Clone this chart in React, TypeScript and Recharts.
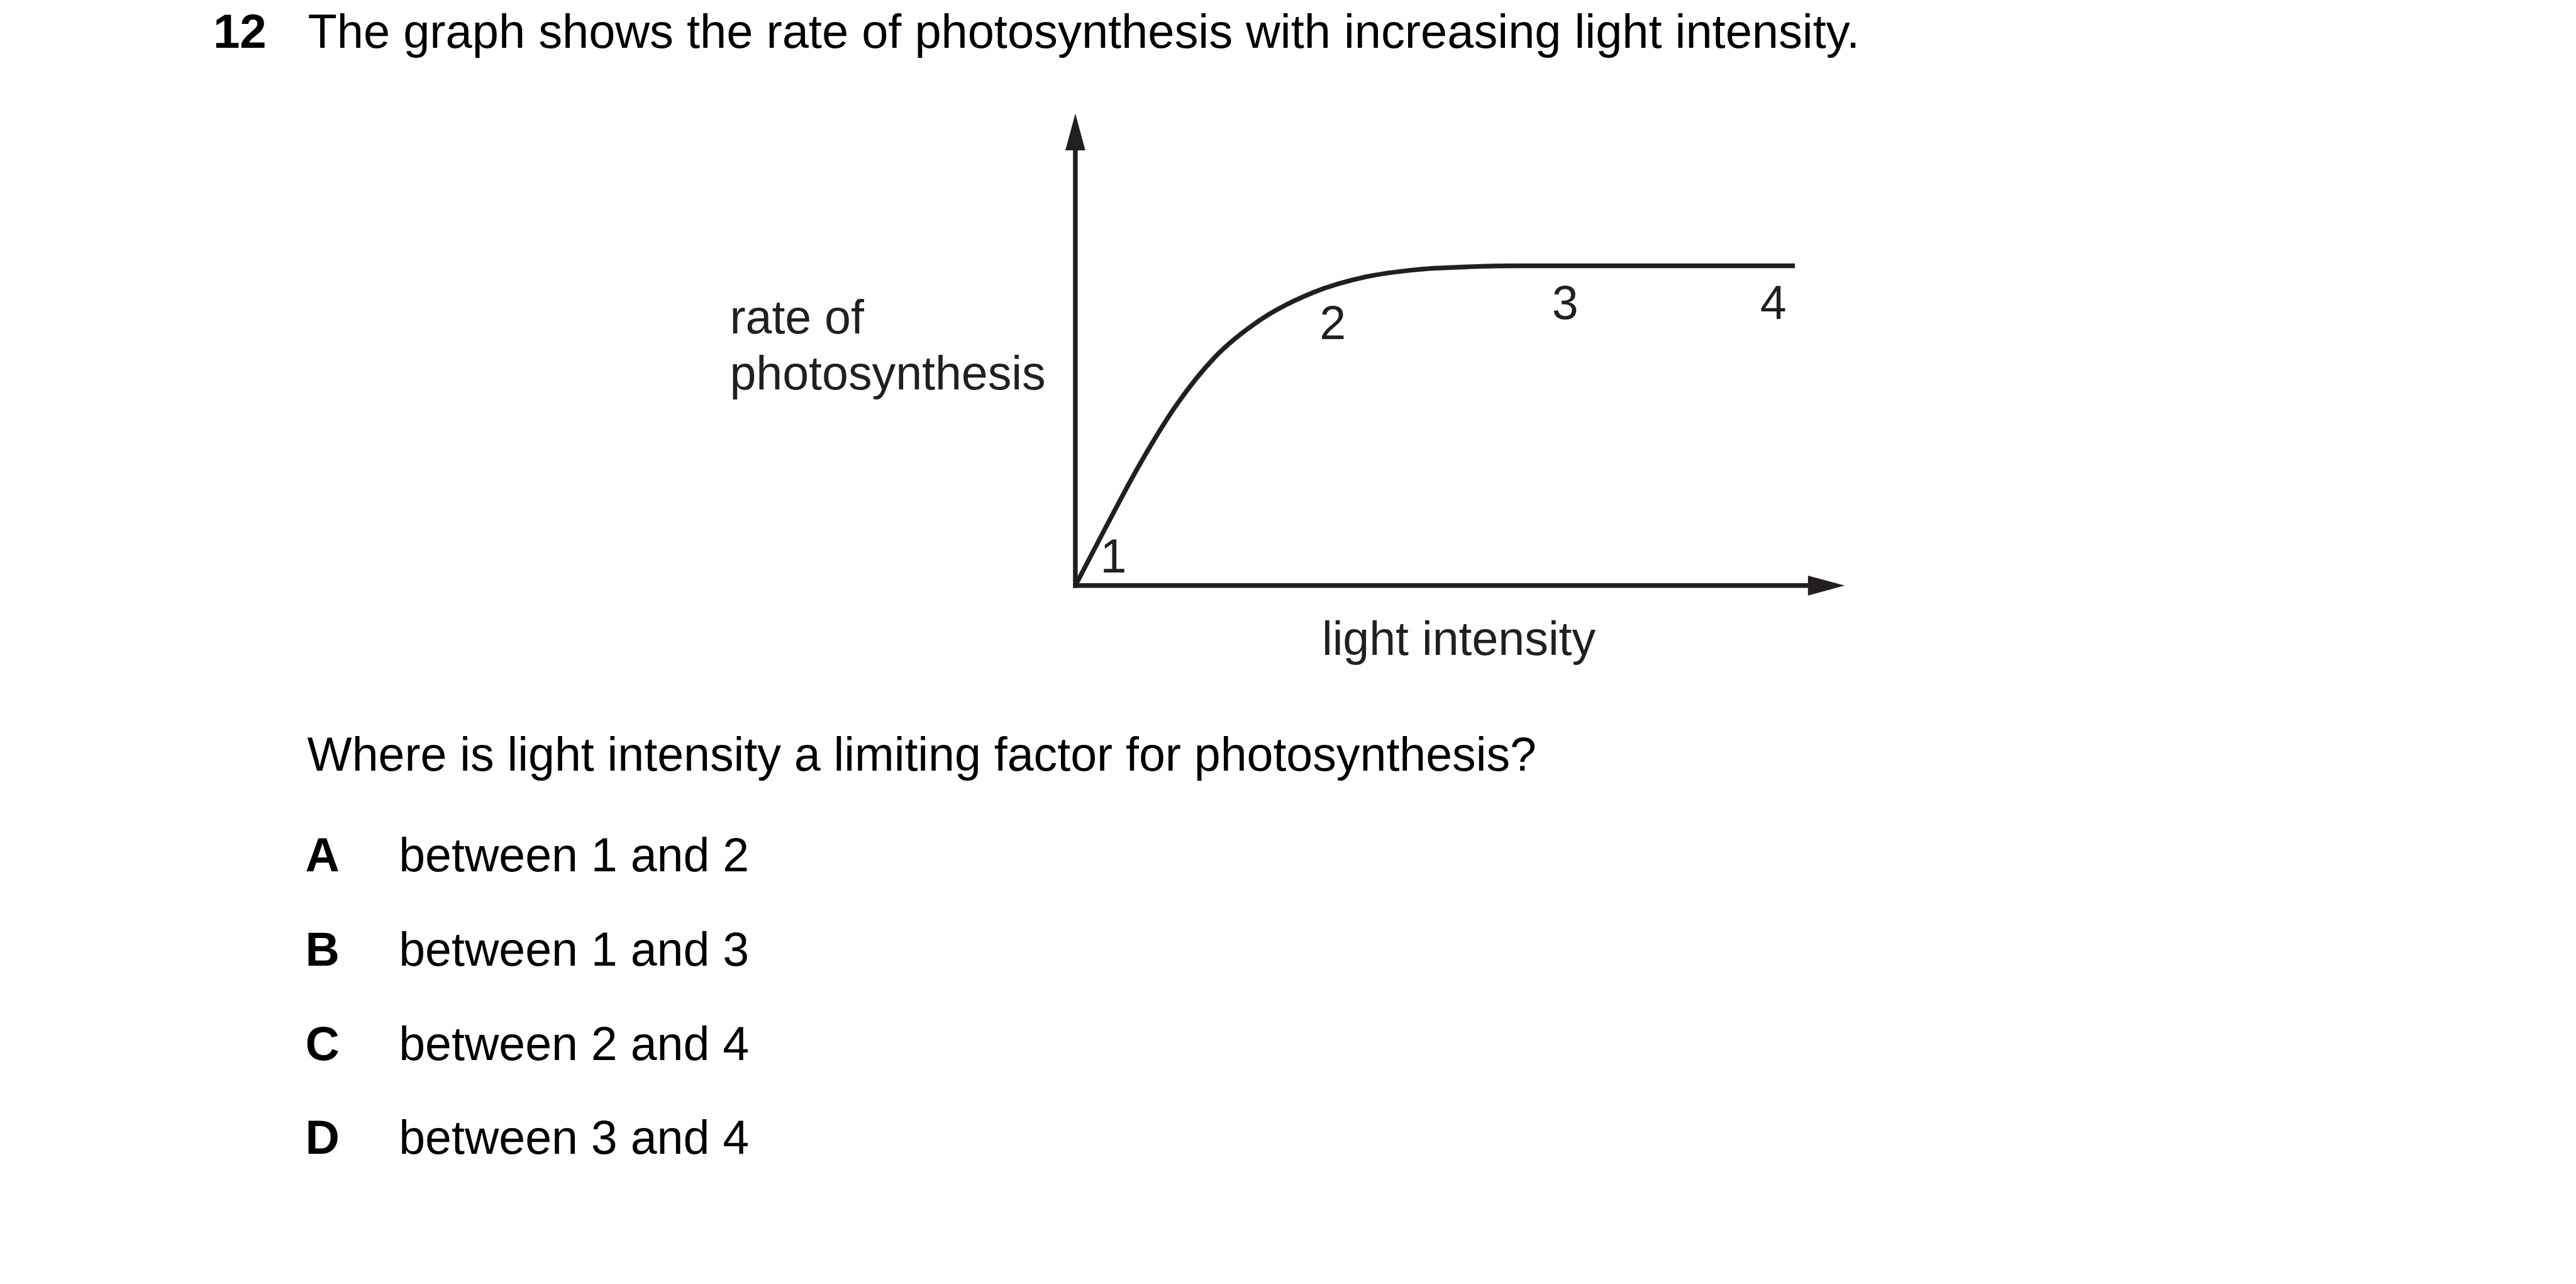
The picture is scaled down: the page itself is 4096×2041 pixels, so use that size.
import { LineChart, Line, XAxis, YAxis, ReferenceDot } from "recharts";

// everything is measured on the 4132x2059 reference and drawn at 0.991
const S = 0.991;
const INK = "#231f20";
const FONT = '"Liberation Sans", Arial, Helvetica, sans-serif';

// curve (arbitrary units, 0-100 on both axes)
const lightIntensity = [0, 4.04, 8.71, 13.81, 19.0, 25.2, 32.43, 39.57, 46.79, 54.01, 60.73, 98.13];
const photoRate = [0, 13.02, 27.61, 41.49, 52.36, 60.94, 67.24, 70.82, 72.53, 73.18, 73.39, 73.39];

// numbered points on the graph (text baseline positions, same units)
const pointNames = ["1", "2", "3", "4"];
const pointX = [5.2, 35.1, 66.8, 95.2];
const pointY = [3.0, 56.6, 61.2, 61.2];

const questionNo = "12";
const title = "The graph shows the rate of photosynthesis with increasing light intensity.";
const question = "Where is light intensity a limiting factor for photosynthesis?";
const optionLetters = ["A", "B", "C", "D"];
const optionTexts = ["between 1 and 2", "between 1 and 3", "between 2 and 4", "between 3 and 4"];

const data = lightIntensity.map((x, i) => ({ x, rate: photoRate[i] }));

// chart box on the reference
const BOX = { left: 1100, top: 140, width: 1900, height: 850 };
const PLOT = { left: 1725.5, top: 240, right: 2902, bottom: 939 };

const FS = 76 * S;
const LW = 7.5 * S;
const ARROW_LEN = 58 * S;
const ARROW_HALF = 16 * S;

const ArrowRight = (props: any) => {
  const { cx, cy } = props;
  return (
    <path
      d={`M${cx - 1},${cy - ARROW_HALF}L${cx + ARROW_LEN},${cy}L${cx - 1},${cy + ARROW_HALF}Z`}
      fill={INK}
    />
  );
};

const ArrowUp = (props: any) => {
  const { cx, cy } = props;
  return (
    <path
      d={`M${cx - ARROW_HALF},${cy + 1}L${cx},${cy - ARROW_LEN}L${cx + ARROW_HALF},${cy + 1}Z`}
      fill={INK}
    />
  );
};

const pointLabel = (name: string) => (props: any) =>
  (
    <text
      x={props.cx}
      y={props.cy}
      textAnchor="middle"
      fontFamily={FONT}
      fontSize={FS}
      fill={INK}
    >
      {name}
    </text>
  );

function Graph() {
  return (
    <div
      style={{
        position: "absolute",
        left: BOX.left * S,
        top: BOX.top * S,
      }}
    >
      <LineChart
        width={BOX.width * S}
        height={BOX.height * S}
        data={data}
        margin={{
          // the 1px axis boxes are taken off the margins
          left: (PLOT.left - BOX.left) * S - 1,
          top: (PLOT.top - BOX.top) * S,
          right: (BOX.left + BOX.width - PLOT.right) * S,
          bottom: (BOX.top + BOX.height - PLOT.bottom) * S - 1,
        }}
      >
        <XAxis
          dataKey="x"
          type="number"
          domain={[0, 100]}
          allowDataOverflow
          height={1}
          tick={false}
          tickLine={false}
          axisLine={{ stroke: INK, strokeWidth: LW, strokeLinecap: "square" }}
        />
        <YAxis
          type="number"
          domain={[0, 100]}
          allowDataOverflow
          width={1}
          tick={false}
          tickLine={false}
          axisLine={{ stroke: INK, strokeWidth: LW, strokeLinecap: "square" }}
        />
        <Line
          type="monotone"
          dataKey="rate"
          stroke={INK}
          strokeWidth={LW}
          dot={false}
          activeDot={false}
          isAnimationActive={false}
        />
        <ReferenceDot x={100} y={0} ifOverflow="visible" shape={ArrowRight} />
        <ReferenceDot x={0} y={100} ifOverflow="visible" shape={ArrowUp} />
        {pointNames.map((name, i) => (
          <ReferenceDot
            key={name}
            x={pointX[i]}
            y={pointY[i]}
            ifOverflow="visible"
            shape={pointLabel(name)}
          />
        ))}
      </LineChart>
    </div>
  );
}

export default function App() {
  const t = (x: number, y: number, s: string, bold = false, fill = "#000", size = 76) => (
    <text
      x={x * S}
      y={y * S}
      fontFamily={FONT}
      fontSize={size * S}
      fontWeight={bold ? 700 : 400}
      fill={fill}
    >
      {s}
    </text>
  );

  return (
    <div
      style={{
        position: "absolute",
        left: 0,
        top: 0,
        width: 4096,
        height: 2041,
        background: "#fff",
        overflow: "hidden",
      }}
    >
      <Graph />
      <svg
        width={4096}
        height={2041}
        style={{ position: "absolute", left: 0, top: 0, pointerEvents: "none" }}
      >
        {t(342, 77, questionNo, true, "#000", 77)}
        {t(494, 77, title, false, "#000", 76.5)}

        {/* axis titles */}
        {t(1171, 535, "rate of", false, INK)}
        {t(1171, 625, "photosynthesis", false, INK)}
        {t(2121, 1050, "light intensity", false, INK)}

        {t(493, 1236, question)}
        {optionLetters.map((l, i) => (
          <g key={l}>
            {t(490, 1398 + i * 151, l, true)}
            {t(640, 1398 + i * 151, optionTexts[i])}
          </g>
        ))}
      </svg>
    </div>
  );
}
